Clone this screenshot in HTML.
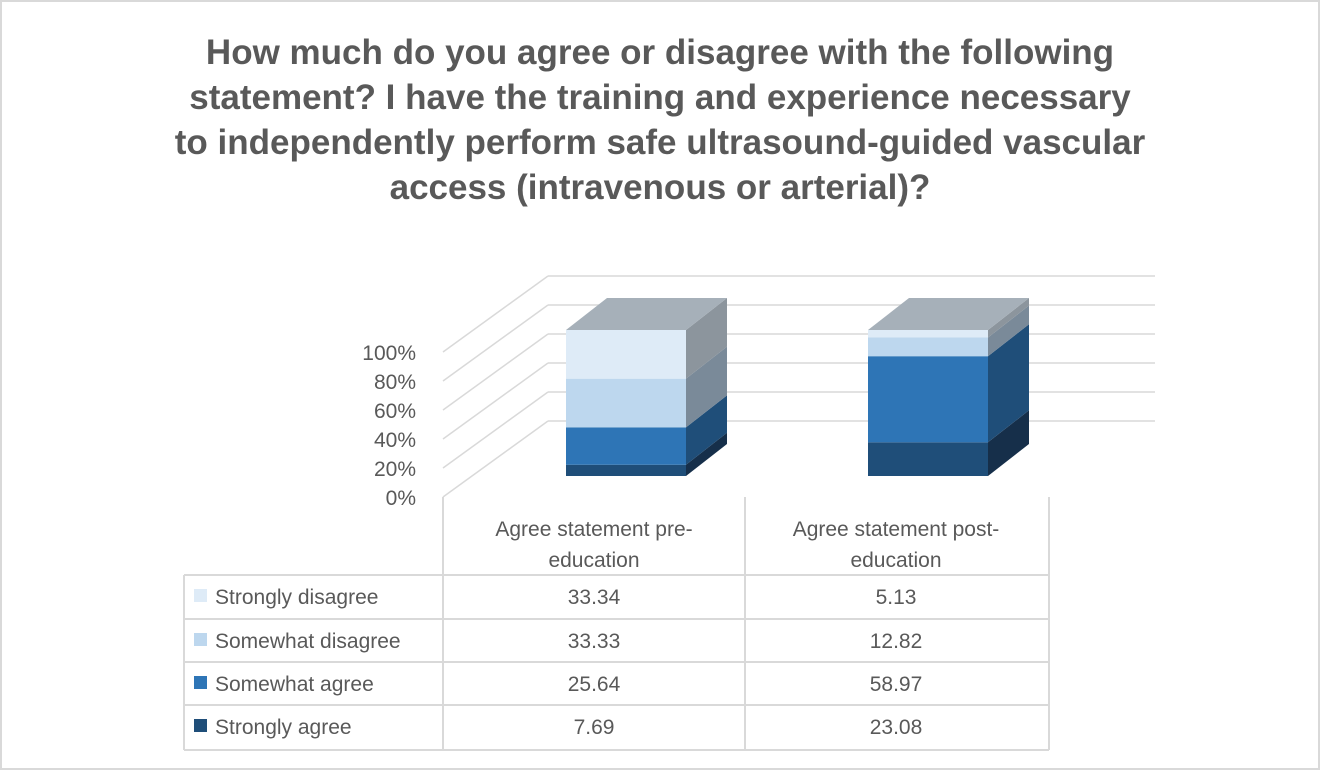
<!DOCTYPE html>
<html><head><meta charset="utf-8"><style>
html,body{margin:0;padding:0;background:#fff;}
svg{display:block;font-family:"Liberation Sans",sans-serif;}
</style></head><body>
<svg id="c" width="1321" height="771">
<rect x="1" y="1" width="1318" height="768" fill="#fff" stroke="#d9d9d9" stroke-width="2"/>
<g font-size="35" font-weight="bold" fill="#595959" text-anchor="middle">
<text x="660" y="64">How much do you agree or disagree with the following</text>
<text x="660" y="109">statement? I have the training and experience necessary</text>
<text x="660" y="154">to independently perform safe ultrasound-guided vascular</text>
<text x="660" y="199">access (intravenous or arterial)?</text>
</g>
<g id="plot"></g>
</svg>
<script>
const categories=["Agree statement pre-education","Agree statement post-education"];
const catLines=[["Agree statement pre-","education"],["Agree statement post-","education"]];
const seriesNames=["Strongly agree","Somewhat agree","Somewhat disagree","Strongly disagree"];
const stronglyAgree=[7.69,23.08];
const somewhatAgree=[25.64,58.97];
const somewhatDisagree=[33.33,12.82];
const stronglyDisagree=[33.34,5.13];
const yTicks=[0,20,40,60,80,100];
const tickLabels=["0%","20%","40%","60%","80%","100%"];

const series=[stronglyAgree,somewhatAgree,somewhatDisagree,stronglyDisagree];
const front=["#1f4e79","#2e75b6","#bdd7ee","#deebf7"];
const side=["#162f4a","#1f4e79","#7a8a99","#8c959d"];
const NS="http://www.w3.org/2000/svg";
const g=document.getElementById('plot');
function el(t,a,p){const e=document.createElementNS(NS,t);for(const k in a)e.setAttribute(k,a[k]);(p||g).appendChild(e);return e;}
// back plane y scale
const backY=v=>421-v/100*145;
const frontY=v=>476-v/100*146;
const dx=-105,dy=76;
const colL=[443,745],colW=302;
// gridlines
yTicks.forEach((t,i)=>{
 const y=backY(t);
 let l=el('line',{x1:548,y1:y,x2:1155,y2:y,stroke:'#d9d9d9','stroke-width':1.5});
 
 let d=el('line',{x1:548,y1:y,x2:548+dx,y2:y+dy,stroke:'#d9d9d9','stroke-width':1.5});
 
 let tx=el('text',{x:416,y:y+dy+8,'text-anchor':'end','font-size':21,fill:'#595959'});
 tx.textContent=tickLabels[i];
 
});
// bars
const bw=120,ox=41,oy=-32;
categories.forEach((c,ci)=>{
 const x0=colL[ci]+123;
 let cum=0;
 series.forEach((s,si)=>{
  const v=s[ci];const yb=frontY(cum),yt=frontY(cum+v);cum+=v;
  let r=el('rect',{x:x0,y:yt,width:bw,height:yb-yt,fill:front[si]});
  
  
  let p=el('polygon',{points:`${x0+bw},${yb} ${x0+bw+ox},${yb+oy} ${x0+bw+ox},${yt+oy} ${x0+bw},${yt}`,fill:side[si]});
  
 });
 const yt=frontY(cum);
 let top=el('polygon',{points:`${x0},${yt} ${x0+ox},${yt+oy} ${x0+bw+ox},${yt+oy} ${x0+bw},${yt}`,fill:'#a6b0b9'});
 
});
// category axis + table
[443,745,1049].forEach(x=>{let l=el('line',{x1:x,y1:497,x2:x,y2:750,stroke:'#d9d9d9','stroke-width':2});
 });
const rowY=[575,619,662,705,750];
rowY.forEach(y=>{let l=el('line',{x1:184,y1:y,x2:1049,y2:y,stroke:'#d9d9d9','stroke-width':2});
 });
let lb=el('line',{x1:184,y1:575,x2:184,y2:750,stroke:'#d9d9d9','stroke-width':2});

catLines.forEach((ls,ci)=>{ls.forEach((t,li)=>{
 let tx=el('text',{x:colL[ci]+colW/2,y:536+li*31,'text-anchor':'middle','font-size':21,fill:'#595959'});
 tx.textContent=t;});});
for(let r=0;r<4;r++){
 const si=3-r;const y=rowY[r]+29;
 let k=el('rect',{x:194,y:y-15,width:13,height:13,fill:front[si]});
 
 let n=el('text',{x:215,y:y,'font-size':21,fill:'#595959'});n.textContent=seriesNames[si];
 
 for(let ci=0;ci<2;ci++){
  let v=el('text',{x:colL[ci]+colW/2,y:y,'text-anchor':'middle','font-size':21,fill:'#595959'});
  v.textContent=series[si][ci].toFixed(2);
  
 }
}
</script>
</body></html>
